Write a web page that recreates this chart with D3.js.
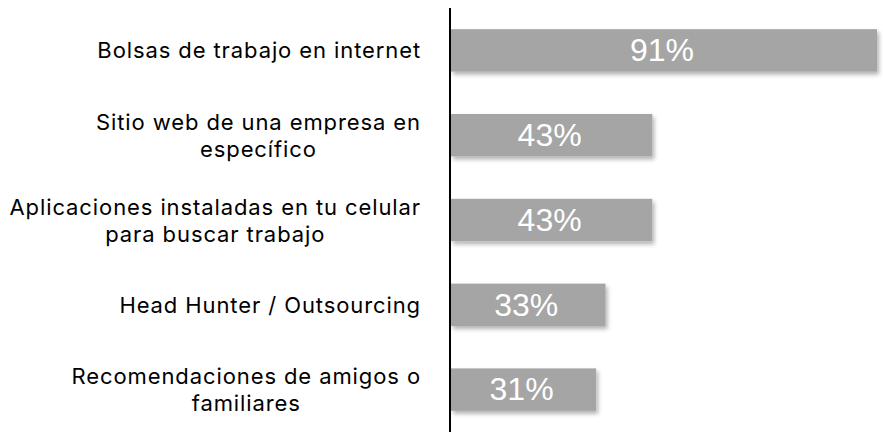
<!DOCTYPE html>
<html><head><meta charset="utf-8">
<script src="https://cdn.jsdelivr.net/npm/d3@7"></script>
<style>body{margin:0;background:#fff}svg{display:block}</style>
</head><body>
<svg id="c" width="883" height="433"></svg>
<script>
const categories = [
  ["Bolsas de trabajo en internet"],
  ["Sitio web de una empresa en", "específico"],
  ["Aplicaciones instaladas en tu celular", "para buscar trabajo"],
  ["Head Hunter / Outsourcing"],
  ["Recomendaciones de amigos o", "familiares"]
];
const values = [91, 43, 43, 33, 31];
const valueLabels = ["91%", "43%", "43%", "33%", "31%"];

const svg = d3.select("#c");
const axisX = 451;
const x = d3.scaleLinear().domain([0, 91]).range([axisX, 877]);
const y = d3.scaleBand().domain(d3.range(values.length)).range([8, 432]).paddingInner(0.5).paddingOuter(0.25);

const defs = svg.append("defs");
const f = defs.append("filter").attr("id", "sh").attr("x", "-5%").attr("y", "-30%").attr("width", "115%").attr("height", "170%");
f.append("feDropShadow").attr("dx", 2).attr("dy", 3).attr("stdDeviation", 2.2).attr("flood-color", "#000").attr("flood-opacity", 0.3);

svg.selectAll("rect.bar").data(values).join("rect")
  .attr("class", "bar")
  .attr("x", x(0))
  .attr("y", (d, i) => y(i))
  .attr("width", d => x(d) - x(0))
  .attr("height", y.bandwidth())
  .attr("fill", "#a5a5a5")
  .attr("filter", "url(#sh)");

svg.selectAll("text.val").data(values).join("text")
  .attr("class", "val")
  .attr("x", d => (x(0) + x(d)) / 2 - 2)
  .attr("y", (d, i) => y(i) + y.bandwidth() / 2)
  .attr("dy", "0.34em")
  .attr("text-anchor", "middle")
  .attr("fill", "#fff")
  .style("font-family", "Liberation Sans, Arial, sans-serif")
  .style("font-size", "32px")
  .text((d, i) => valueLabels[i]);

const rightEdge = 421;
const lineH = 27;
categories.forEach((lines, i) => {
  const cy = y(i) + y.bandwidth() / 2;
  const t = svg.append("text")
    .attr("text-anchor", "middle")
    .attr("fill", "#000")
    .style("font-family", "Inter, sans-serif")
    .style("font-size", "22px")
    .style("letter-spacing", "0.9px");
  const ts = lines.map((ln, j) => t.append("tspan")
    .attr("y", cy + 8 + (j - (lines.length - 1) / 2) * lineH)
    .text(ln));
  const maxW = d3.max(ts, s => s.node().getComputedTextLength());
  ts.forEach(s => s.attr("x", rightEdge - maxW / 2));
});

svg.append("line")
  .attr("x1", axisX - 1).attr("x2", axisX - 1)
  .attr("y1", 8).attr("y2", 432)
  .attr("stroke", "#000").attr("stroke-width", 2);
</script>
</body></html>
